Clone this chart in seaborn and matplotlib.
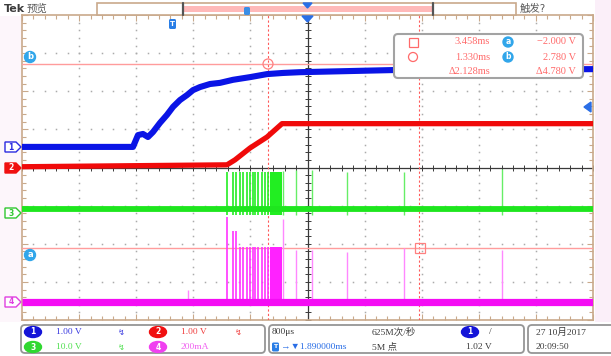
import numpy as np
import pandas as pd
import matplotlib
matplotlib.use("Agg")
import matplotlib.pyplot as plt
import seaborn as sns
from matplotlib.patches import Rectangle, FancyBboxPatch, Ellipse, Polygon, Circle
from matplotlib.ticker import FixedLocator

# ---------------- data (time in ms, amplitude in screen divisions) ----------------
blue_t = [-2.11, -0.555, -0.485, -0.415, -0.345, -0.275, -0.177, -0.079, 0.006, 0.104,
          0.202, 0.286, 0.384, 0.524, 0.664, 0.846, 1.084, 1.323, 1.547, 1.785, 3.186, 5.89]
blue_y = [0.54, 0.54, 0.85, 0.88, 0.80, 0.93, 1.17, 1.38, 1.59, 1.77,
          1.90, 2.03, 2.11, 2.19, 2.22, 2.30, 2.37, 2.45, 2.48, 2.50, 2.56, 2.58]

red_t = [-2.11, 0.762, 0.874, 1.084, 1.323, 1.533, 5.89]
red_y = [0.02, 0.07, 0.20, 0.51, 0.80, 1.15, 1.15]

green_base = -1.08
green_burst_t = [0.762, 0.846, 0.888, 0.944, 0.986, 1.042, 1.084, 1.126, 1.154,
                 1.196, 1.252, 1.294, 1.337]
green_burst_top = -0.12
green_low = -1.25
green_block = [1.365, 1.533]
green_single_t = [1.547, 1.729, 1.953, 2.443, 3.242, 4.615]
green_single_top = [-0.10, -0.07, -0.07, -0.12, -0.12, -0.05]

mag_base = -3.53
mag_burst_t = green_burst_t
mag_burst_top = [-1.31, -1.67, -1.67, -2.09, -2.09, -2.09, -2.09, -2.09, -2.09,
                 -2.09, -2.09, -2.09, -2.09]
mag_block = [1.365, 1.533]
mag_block_top = -2.09
mag_single_t = [0.216, 1.547, 1.729, 1.953, 2.443, 3.242, 4.615]
mag_single_top = [-3.21, -1.36, -2.16, -2.16, -2.22, -2.11, -2.16]

cursor_t = [1.330, 3.458]
cursor_y = [2.72, -2.11]
trigger_t = 0.0
h_center = 1.89

meas_times = ["3.458ms", "1.330ms", "Δ2.128ms"]
meas_volts = ["−2.000 V", "2.780 V", "Δ4.780 V"]

# ---------------- figure ----------------
sns.set_style("white")
plt.rcParams['font.family'] = ['DejaVu Sans', 'Noto Sans CJK SC']
SERIF = ['Liberation Serif', 'Noto Sans CJK SC']

W, H = 611, 356
fig = plt.figure(figsize=(6.11, 3.56), dpi=100)
fig.patch.set_facecolor('white')

L, R, T, B = 22, 593, 15, 320
ax = fig.add_axes([L / W, 1 - B / H, (R - L) / W, (B - T) / H])
T0 = h_center - 4.0
T1 = h_center + 4.0
ax.set_xlim(T0, T1)
ax.set_ylim(-4, 4)
ax.set_facecolor('white')

TAN = '#c9a98b'
for s in ax.spines.values():
    s.set_color(TAN)
    s.set_linewidth(1.2)
xmaj = [T0 + 0.8 * i for i in range(11)]
xmin = [T0 + 0.16 * i for i in range(51)]
ymaj = [-4 + i for i in range(9)]
ymin = [-4 + 0.2 * i for i in range(41)]
ax.xaxis.set_major_locator(FixedLocator(xmaj))
ax.xaxis.set_minor_locator(FixedLocator(xmin))
ax.yaxis.set_major_locator(FixedLocator(ymaj))
ax.yaxis.set_minor_locator(FixedLocator(ymin))
ax.tick_params(which='both', direction='in', top=True, bottom=True, left=True, right=True,
               labelbottom=False, labelleft=False, color=TAN, width=0.8)
ax.tick_params(which='major', length=4)
ax.tick_params(which='minor', length=3)

# dotted grid
GRID = '#ababab'
for yv in [-3, -2, -1, 1, 2, 3]:
    ax.plot(xmin[1:-1], [yv] * 49, ls='none', marker='s', ms=1.1, color=GRID, mew=0)
for xv in xmaj[1:-1]:
    if abs(xv - h_center) < 1e-6:
        continue
    ax.plot([xv] * 39, ymin[1:-1], ls='none', marker='s', ms=1.1, color=GRID, mew=0)

# centre crosshair
ax.axhline(0, color='#3a3a3a', lw=0.9, zorder=2)
ax.axvline(h_center, color='#3a3a3a', lw=0.9, zorder=2)
ax.plot(xmin, [0] * 51, ls='none', marker='|', ms=4, mew=0.7, color='#3a3a3a')
ax.plot([h_center] * 41, ymin, ls='none', marker='_', ms=4, mew=0.7, color='#3a3a3a')

# cursors
for ct in cursor_t:
    ax.axvline(ct, color='#ff5a5a', ls=(0, (2, 2)), lw=0.8, zorder=3)
for cy in cursor_y:
    ax.axhline(cy, color='#ff9c9c', lw=1.0, zorder=3)

# traces
ax.vlines(green_burst_t, green_low, green_burst_top, color='#22ee22', lw=1.2, zorder=4)
ax.fill_between(green_block, green_low, green_burst_top, color='#22ee22', lw=0, zorder=4)
ax.vlines(green_single_t, green_low, green_single_top, color='#66ee66', lw=1.0, zorder=4)
ax.vlines(mag_burst_t, mag_base, mag_burst_top, color='#ff33ff', lw=1.2, zorder=4)
ax.fill_between(mag_block, mag_base, mag_block_top, color='#ff22ff', lw=0, zorder=4)
ax.vlines(mag_single_t, mag_base, mag_single_top, color='#ff88ff', lw=1.0, zorder=4)

df_b = pd.DataFrame({'t': blue_t, 'v': blue_y})
df_r = pd.DataFrame({'t': red_t, 'v': red_y})
df_g = pd.DataFrame({'t': [T0, T1], 'v': [green_base, green_base]})
df_m = pd.DataFrame({'t': [T0, T1], 'v': [mag_base, mag_base]})
kw = dict(estimator=None, sort=False, zorder=5, solid_joinstyle='round', solid_capstyle='butt')
sns.lineplot(data=df_b, x='t', y='v', ax=ax, color='#0a14e6', lw=4.4, **kw)
sns.lineplot(data=df_r, x='t', y='v', ax=ax, color='#f00a0a', lw=3.8, **kw)
sns.lineplot(data=df_g, x='t', y='v', ax=ax, color='#1ee61e', lw=4.2, **kw)
sns.lineplot(data=df_m, x='t', y='v', ax=ax, color='#f40cf4', lw=5.2, **kw)
ax.set_xlabel('')
ax.set_ylabel('')

# ---------------- overlay (pixel coordinates) ----------------
ov = fig.add_axes([0, 0, 1, 1], zorder=10)
ov.set_xlim(0, W)
ov.set_ylim(H, 0)
ov.axis('off')
ov.patch.set_alpha(0)

ov.add_patch(Rectangle((595, 0), 16, 322, color='#fbeff9', lw=0, zorder=0))
ov.add_patch(Rectangle((0, 16), 21, 306, color='#fdf6fb', lw=0, zorder=0))

# top bar
ov.text(4, 9, 'Tek', fontsize=8, fontweight='bold', color='#3c3c3c', va='center', ha='left')
ov.text(27, 9, '预览', fontsize=7.5, color='#5a5a5a', va='center', ha='left')
ov.add_patch(Rectangle((97, 3), 419, 12, facecolor='white', edgecolor=TAN, lw=1.2))
ov.add_patch(Rectangle((183, 6), 250, 6, facecolor='#ffb9b9', edgecolor='none'))
ov.plot([183, 183], [3, 15], color='#555555', lw=1.6)
ov.plot([433, 433], [3, 15], color='#555555', lw=1.6)
ov.add_patch(FancyBboxPatch((244, 7), 6, 8, boxstyle='round,pad=0,rounding_size=1.5',
                            facecolor='#3a8ee6', edgecolor='none'))
ov.add_patch(Polygon([(303, 3), (312, 3), (307.5, 8)], closed=True, color='#2a6ee6'))
ov.add_patch(Polygon([(302, 16), (313, 16), (307.5, 22)], closed=True, color='#2a6ee6'))
ov.text(520, 9, '触发?', fontsize=7.5, color='#5a5a5a', va='center', ha='left')

# trigger marker in plot
ov.add_patch(FancyBboxPatch((169, 19), 7, 10, boxstyle='round,pad=0,rounding_size=1.5',
                            facecolor='#2a7ee6', edgecolor='none'))
ov.text(172.5, 24, 'T', fontsize=5, color='white', ha='center', va='center', fontweight='bold')
ov.add_patch(Polygon([(584, 107), (591, 102), (591, 112)], closed=True, color='#2a6ee6'))

# channel markers
for y, col, lab, filled in [(147, '#2a2ae0', '1', False), (168, '#f01010', '2', True),
                            (213, '#30c830', '3', False), (302, '#e040e0', '4', False)]:
    poly = Polygon([(5, y - 5), (16, y - 5), (21, y), (16, y + 5), (5, y + 5)], closed=True,
                   facecolor=col if filled else 'white', edgecolor=col, lw=1.0)
    ov.add_patch(poly)
    ov.text(11, y, lab, fontsize=5.5, color='white' if filled else col, ha='center', va='center',
            fontweight='bold')

# cursor labels
CYAN = '#31a6ea'
for y, lab in [(57, 'b'), (255, 'a')]:
    ov.add_patch(Circle((30, y), 5.5, color=CYAN))
    ov.text(30, y - 0.5, lab, fontsize=6, color='white', ha='center', va='center', fontweight='bold')
ov.add_patch(Circle((268, 64), 5, facecolor='none', edgecolor='#ff8080', lw=0.9))
ov.add_patch(Rectangle((415, 243), 10, 10, facecolor='none', edgecolor='#ff8080', lw=0.9))

# measurement box
PINK_T = '#ff6a6a'
ov.add_patch(FancyBboxPatch((394, 34), 189, 44, boxstyle='round,pad=0,rounding_size=4',
                            facecolor='white', edgecolor='#a3a3a3', lw=1.5))
rows = [42, 57, 71]
ov.add_patch(Rectangle((408.5, 37.5), 9, 9, facecolor='none', edgecolor=PINK_T, lw=0.9))
ov.add_patch(Circle((413, 57), 4.5, facecolor='none', edgecolor=PINK_T, lw=0.9))
for y, tt, vv in zip(rows, meas_times, meas_volts):
    ov.text(490, y, tt, fontsize=7.5, color=PINK_T, ha='right', va='center', family=SERIF)
    ov.text(576, y, vv, fontsize=7.5, color=PINK_T, ha='right', va='center', family=SERIF)
for y, lab in [(42, 'a'), (57, 'b')]:
    ov.add_patch(Circle((508, y), 5, color=CYAN))
    ov.text(508, y - 0.5, lab, fontsize=5.5, color='white', ha='center', va='center', fontweight='bold')

# bottom bar
for x0, x1 in [(21, 265), (269, 524), (528, 616)]:
    ov.add_patch(FancyBboxPatch((x0, 325), x1 - x0, 28, boxstyle='round,pad=0,rounding_size=4',
                                facecolor='white', edgecolor='#959595', lw=1.3))
r1, r2 = 332, 347
FS = 6.8
for (x, y, col, lab, txt, tcol) in [(33, r1, '#1414d8', '1', '1.00 V', '#3a3ae0'),
                                    (158, r1, '#f01010', '2', '1.00 V', '#f04040'),
                                    (33, r2, '#30d830', '3', '10.0 V', '#50e050'),
                                    (158, r2, '#f040f0', '4', '200mA', '#f060f0')]:
    ov.add_patch(Ellipse((x, y), 17, 11, color=col))
    ov.text(x, y, lab, fontsize=5.5, color='white', ha='center', va='center', fontweight='bold')
    ov.text(x + 23, y, txt, fontsize=FS, color=tcol, ha='left', va='center', family=SERIF)
for (x, y, col) in [(121, r1, '#3a3ae0'), (238, r1, '#f04040'), (121, r2, '#50e050')]:
    ov.text(x, y, '↯', fontsize=6, color=col, ha='center', va='center')

DARK = '#3c3c3c'
ov.text(272, r1, '800μs', fontsize=FS, color=DARK, ha='left', va='center', family=SERIF)
ov.text(372, r1, '625M次/秒', fontsize=FS, color=DARK, ha='left', va='center', family=SERIF)
ov.add_patch(Ellipse((470, r1), 17, 11, color='#1414d8'))
ov.text(470, r1, '1', fontsize=5.5, color='white', ha='center', va='center', fontweight='bold')
ov.text(489, r1, '/', fontsize=FS, color=DARK, ha='left', va='center', family=SERIF)
ov.add_patch(FancyBboxPatch((272, r2 - 4.5), 7, 9, boxstyle='round,pad=0,rounding_size=1.5',
                            facecolor='#2a7ee6', edgecolor='none'))
ov.text(275.5, r2, 'T', fontsize=4.5, color='white', ha='center', va='center', fontweight='bold')
ov.text(281, r2, '→▼1.890000ms', fontsize=FS, color='#2a6ee6', ha='left', va='center', family=SERIF)
ov.text(372, r2, '5M 点', fontsize=FS, color=DARK, ha='left', va='center', family=SERIF)
ov.text(466, r2, '1.02 V', fontsize=FS, color=DARK, ha='left', va='center', family=SERIF)
ov.text(536, r1, '27 10月2017', fontsize=FS, color=DARK, ha='left', va='center', family=SERIF)
ov.text(536, r2, '20:09:50', fontsize=FS, color=DARK, ha='left', va='center', family=SERIF)

fig.savefig('out.png', dpi=100, facecolor=fig.get_facecolor())
